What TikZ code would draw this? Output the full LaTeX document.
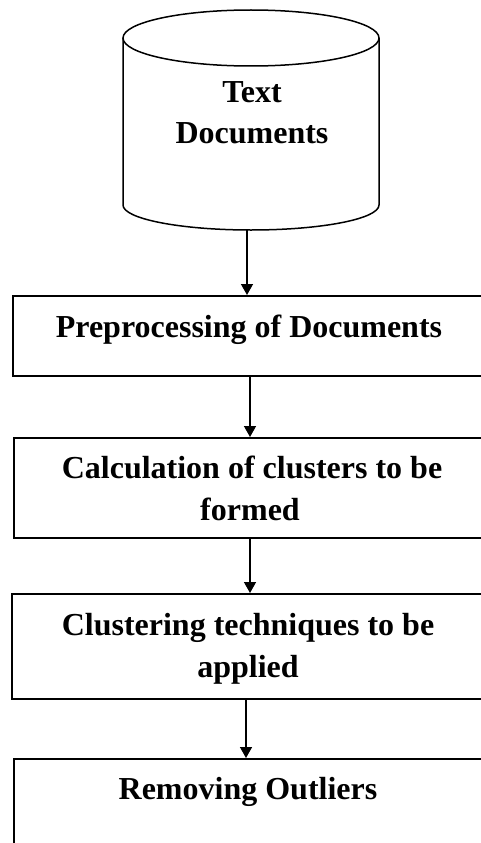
\documentclass[tikz,border=0pt]{standalone}
\usepackage{fontspec}
\setmainfont{Liberation Serif}
\usetikzlibrary{arrows.meta,calc}
\tikzset{
  boxst/.style={draw, line width=1.5pt, rectangle, inner sep=0pt, anchor=north west},
  lbl/.style={font=\bfseries\fontsize{32}{42}\selectfont, anchor=base, inner sep=0pt},
  arr/.style={line width=1.5pt, -{Triangle[width=12pt,length=11pt]}},
  shapeln/.style={line width=1.5pt}
}
\begin{document}
\begin{tikzpicture}[x=1pt,y=1pt]
\clip (0,0) rectangle (481,-843);
% cylinder
\draw[shapeln] (251,-38) ellipse (128 and 28);
\draw[shapeln] (123,-38) -- (123,-205) arc (180:360:128 and 25) -- (379,-38);
\node[minimum width=256pt, minimum height=220pt, inner sep=0pt, anchor=north west] (cyl) at (123,-10) {};
\node[lbl] (tx1) at (252,-102) {Text};
\node[lbl] (tx2) at (252,-143) {Documents};
% boxes
\node[boxst, minimum width=478pt, minimum height=80pt] (b1) at (12,-295) {};
\node[lbl] (t1) at (249,-337) {Preprocessing of Documents};
\node[boxst, minimum width=478pt, minimum height=100pt] (b2) at (13,-437) {};
\node[lbl] (t2a) at (252,-478) {Calculation of clusters to be};
\node[lbl] (t2b) at (250,-520) {formed};
\node[boxst, minimum width=478pt, minimum height=105pt] (b3) at (11,-593) {};
\node[lbl] (t3a) at (248,-635) {Clustering techniques to be};
\node[lbl] (t3b) at (248,-677) {applied};
\node[boxst, minimum width=478pt, minimum height=120pt] (b4) at (13,-758) {};
\node[lbl] (t4) at (248,-799) {Removing Outliers};
% arrows
\coordinate (a1) at (247,0);
\coordinate (a2) at (250,0);
\coordinate (a4) at (246,0);
\draw[arr] (cyl.south -| a1) -- (b1.north -| a1);
\draw[arr] (b1.south -| a2) -- (b2.north -| a2);
\draw[arr] (b2.south -| a2) -- (b3.north -| a2);
\draw[arr] (b3.south -| a4) -- (b4.north -| a4);
\end{tikzpicture}
\end{document}
